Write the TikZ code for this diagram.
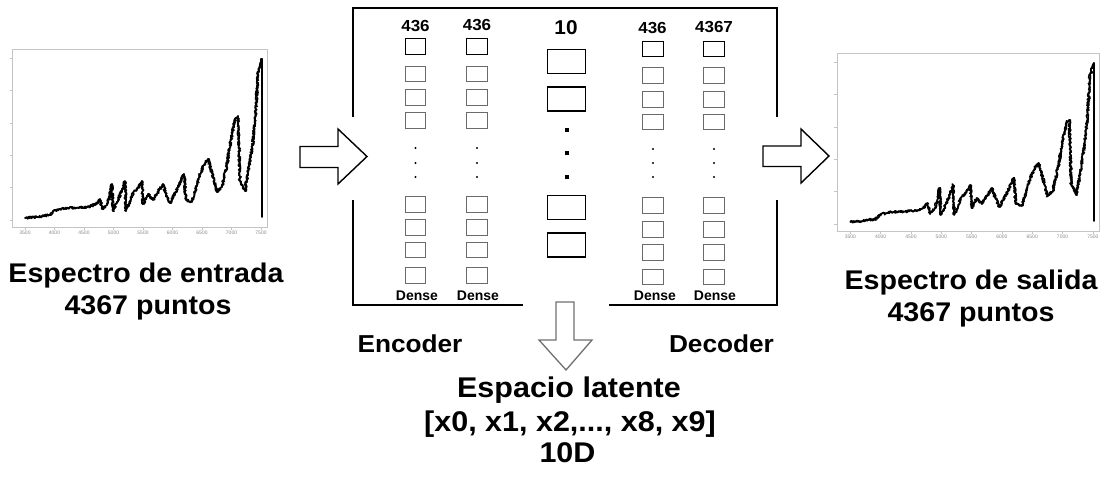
\documentclass[tikz,border=0pt]{standalone}
\usepackage{fontspec}
\setmainfont{Liberation Sans}
\usetikzlibrary{decorations.pathmorphing}

% horizontal stretch for the bold labels
\newcommand\hst[2]{\scalebox{#1}[1]{#2}}

\definecolor{framegray}{HTML}{C4C4C4}
\definecolor{tickgray}{HTML}{8A8A8A}
\definecolor{cellgray}{HTML}{6A6A6A}
\definecolor{downgray}{HTML}{707070}

\tikzset{
  ticklab/.style={font=\fontsize{5}{5}\selectfont, text=tickgray, inner sep=0pt, anchor=north},
  curve/.style={line width=1.5pt, line join=round, line cap=round, black},
  noisy/.style={decorate, decoration={random steps, segment length=1pt, amplitude=1.3pt}},
  spectrum/.pic={
    % plot frame and axis ticks
    \draw[framegray, line width=0.8pt] (0,0) rectangle (255,178);
    \foreach \i/\lab in {0/3500,1/4000,2/4500,3/5000,4/5500,5/6000,6/6500,7/7000,8/7500}{
      \draw[framegray, line width=0.6pt] (13+29.5*\i,178) -- ++(0,2.5);
      \node[ticklab] at (13+29.5*\i,182) {\lab};
    }
    \foreach \j in {0,...,5}
      \draw[framegray, line width=0.6pt] (0,171-32.4*\j) -- ++(-2.5,0);
    % measured spectrum, drawn twice for a dense noisy trace
    \foreach \pass in {1,2}
    \draw[curve, noisy] plot coordinates {
      (13,169) (25,168) (38,166) (41,162) (48,160) (55,159) (65,158.5) (75,158)
      (82,156) (86,153) (88,150) (90,160) (95,156) (98,146) (100,135) (101,162)
      (106,151) (110,141) (113,132) (114,162) (118,152) (121,144) (126,139) (130,132)
      (131,155) (136,145) (141,151) (146,143) (151,135) (154,145) (158,154) (165,141)
      (172,125) (174,151) (180,153) (184,139) (188,125) (192,116) (196,110) (200,124)
      (205,143) (210,138) (215,115) (220,85) (223,70) (226,67) (228,132) (233,142)
      (236,124) (239,106) (241,91) (244,60) (246,25) (248,15) (250,10)};
    \draw[curve] (250,10) -- (250,168);
  }
}

\begin{document}
\begin{tikzpicture}[x=1pt, y=-1pt,
  lbl/.style={font=\bfseries, anchor=base, inner sep=0pt},
  titletext/.style={lbl, font=\bfseries\fontsize{27}{32}\selectfont},
  midtext/.style={lbl, font=\bfseries\fontsize{24.5}{29}\selectfont},
  latent/.style={lbl, font=\bfseries\fontsize{28.5}{33}\selectfont},
  size/.style={lbl, font=\bfseries\fontsize{16}{18}\selectfont},
  bigsize/.style={lbl, font=\bfseries\fontsize{20}{22}\selectfont},
  dense/.style={lbl, font=\bfseries\fontsize{14}{16}\selectfont},
  cell/.style={draw=cellgray, line width=0.8pt, minimum width=20.5pt, minimum height=15.5pt, inner sep=0pt},
  cellhead/.style={cell, draw=black, line width=1.4pt},
  unit/.style={draw=black, line width=1.8pt, minimum width=38pt, minimum height=24pt, inner sep=0pt},
  netframe/.style={line width=1.4pt, black},
  blockarrow/.style={draw=black, fill=white, line width=1.4pt, line join=miter},
  downarrow/.style={draw=downgray, fill=white, line width=1.3pt, line join=miter}
]
\useasboundingbox (0,0) rectangle (1114,485);
\pgfmathsetseed{11}

% input and output spectra
\pic at (12,49) {spectrum};
\pic[xscale=1.0275] at (837,53) {spectrum};

% network frame, open where the arrows pass
\coordinate (fl1) at (353,117); \coordinate (fl2) at (353,200);
\coordinate (fr1) at (777,117); \coordinate (fr2) at (777,200);
\coordinate (fb1) at (523,305); \coordinate (fb2) at (609,305);
\draw[netframe] (fl1) -- (353,8) -- (777,8) -- (fr1);
\draw[netframe] (fl2) -- (353,305) -- (fb1);
\draw[netframe] (fb2) -- (777,305) -- (fr2);

% encoder layers
\foreach \c/\x in {a/415.5, b/477}{
  \node[cellhead] (\c0) at (\x,46.5) {};
  \foreach \y [count=\k] in {74,97.5,120.5,204.5,227.5,250,275.5}
    \node[cell] (\c\k) at (\x,\y) {};
  \foreach \y in {148,163,177}
    \fill (\x,\y) circle (1.1);
}
% decoder layers
\foreach \c/\x in {d/653, e/714}{
  \node[cellhead] (\c0) at (\x,49) {};
  \foreach \y [count=\k] in {75.5,99.5,122,205.5,229.5,252.5,277}
    \node[cell] (\c\k) at (\x,\y) {};
  \foreach \y in {149,163,177}
    \fill (\x,\y) circle (1.1);
}
% latent layer
\foreach \y [count=\k] in {61.5,99,207.5,245}
  \node[unit] (z\k) at (566.5,\y) {};
\foreach \y in {130,153,177}
  \fill (564.5,\y-2) rectangle ++(4,4);

% layer sizes
\node[size] (sa) at (415.5,31.5) {\hst{1.06}{436}};
\node[size] (sb) at (477,30) {\hst{1.06}{436}};
\node[bigsize] (sz) at (566,34) {\hst{1.04}{10}};
\node[size] (sd) at (652.5,33) {\hst{1.06}{436}};
\node[size] (se) at (714,32) {\hst{1.06}{4367}};
\node[dense] (da) at (417,300) {Dense};
\node[dense] (db) at (478,300) {Dense};
\node[dense] (dd) at (655,300) {Dense};
\node[dense] (de) at (715,300) {Dense};

% flow arrows
\draw[blockarrow] (300,146.5) -- (338,146.5) -- (338,129) -- (367,156.5) -- (338,184) -- (338,167.5) -- (300,167.5) -- cycle;
\draw[blockarrow] (763,146) -- (801,146) -- (801,129) -- (829,156) -- (801,183) -- (801,166.5) -- (763,166.5) -- cycle;
\draw[downarrow] (556,302) -- (574,302) -- (574,340) -- (592,340) -- (566,370) -- (539,340) -- (556,340) -- cycle;

% captions
\node[titletext] (in1) at (146,282) {\hst{1.06}{Espectro de entrada}};
\node[titletext] (in2) at (148,314) {\hst{1.06}{4367 puntos}};
\node[titletext] (out1) at (971,289) {\hst{1.06}{Espectro de salida}};
\node[titletext] (out2) at (971,321) {\hst{1.06}{4367 puntos}};
\node[midtext] (enc) at (410,352) {\hst{1.07}{Encoder}};
\node[midtext] (dec) at (721.5,352) {\hst{1.07}{Decoder}};
\node[latent] (lat1) at (569,397) {\hst{1.07}{Espacio latente}};
\node[latent] (lat2) at (570,431) {\hst{1.07}{[x0, x1, x2,..., x8, x9]}};
\node[latent] (lat3) at (567.5,462) {\hst{1.07}{10D}};
\end{tikzpicture}
\end{document}
